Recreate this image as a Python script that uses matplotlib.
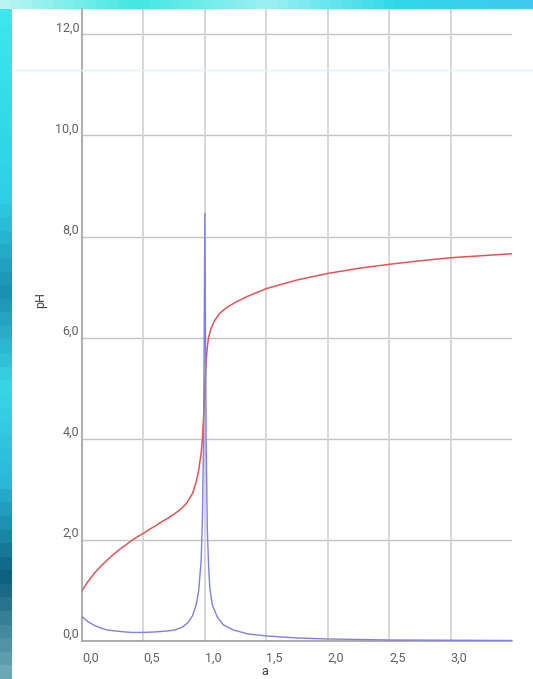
import matplotlib.pyplot as plt
import numpy as np
from matplotlib.colors import LinearSegmentedColormap

# titration curve (pH against a)
a_ph = [0.00, 0.05, 0.10, 0.15, 0.20, 0.25, 0.30, 0.35, 0.40, 0.45, 0.50,
        0.55, 0.60, 0.65, 0.70, 0.75, 0.80, 0.85, 0.90, 0.93, 0.95, 0.97,
        0.98, 0.99, 1.00, 1.01, 1.02, 1.03, 1.05, 1.08, 1.12, 1.18, 1.25,
        1.35, 1.50, 1.75, 2.00, 2.25, 2.50, 2.75, 3.00, 3.25, 3.50]
ph = [1.00, 1.18, 1.34, 1.47, 1.59, 1.70, 1.80, 1.89, 1.98, 2.06, 2.13,
      2.21, 2.28, 2.36, 2.43, 2.51, 2.60, 2.72, 2.92, 3.15, 3.38, 3.72,
      4.00, 4.45, 5.00, 5.50, 5.82, 6.00, 6.18, 6.34, 6.48, 6.60, 6.70,
      6.82, 6.97, 7.14, 7.27, 7.37, 7.45, 7.52, 7.58, 7.62, 7.66]

# the blue peaked curve
a_d = [0.00, 0.05, 0.10, 0.15, 0.20, 0.30, 0.40, 0.50, 0.60, 0.70, 0.76,
       0.82, 0.86, 0.90, 0.93, 0.95, 0.97, 0.98, 0.99, 1.00, 1.01, 1.02,
       1.03, 1.04, 1.06, 1.10, 1.15, 1.23, 1.35, 1.50, 1.75, 2.00, 2.50,
       3.00, 3.50]
d = [0.48, 0.38, 0.31, 0.26, 0.22, 0.19, 0.17, 0.17, 0.18, 0.20, 0.22,
     0.28, 0.36, 0.50, 0.72, 1.00, 1.60, 2.40, 4.00, 8.46, 4.00, 2.20,
     1.50, 1.05, 0.72, 0.48, 0.32, 0.22, 0.14, 0.10, 0.06, 0.04, 0.02,
     0.015, 0.01]

x_ticks = [0.0, 0.5, 1.0, 1.5, 2.0, 2.5, 3.0]
y_ticks = [0.0, 2.0, 4.0, 6.0, 8.0, 10.0, 12.0]

fig = plt.figure(figsize=(5.33, 6.79), dpi=100)
fig.patch.set_facecolor('white')

# cyan photo border on the left and top
border = LinearSegmentedColormap.from_list(
    'border', ['#3ee8ec', '#34dce8', '#2fd0e4', '#1d8fb0', '#39d6e6',
               '#2bb8d8', '#0e5f7e', '#6aa8b4'])
bl = fig.add_axes([0, 0, 12 / 533, 1])
bl.imshow(np.linspace(0, 1, 50).reshape(-1, 1), cmap=border, aspect='auto')
bl.axis('off')
bt = fig.add_axes([0, 1 - 9 / 679, 1, 9 / 679])
bt.imshow(np.linspace(0, 1, 50).reshape(1, -1),
          cmap=LinearSegmentedColormap.from_list('top', ['#b8f4f4', '#40e8e0', '#9ef0f4', '#30d8e8', '#40c8f0']),
          aspect='auto')
bt.axis('off')
fig.add_artist(plt.Line2D([12 / 533, 1], [1 - 70 / 679] * 2, color='#d6f6f8', lw=1))

ax = fig.add_axes([82 / 533, 38 / 679, 430 / 533, 632 / 679])
ax.set_facecolor('none')

ax.plot(a_ph, ph, color='#e25555', lw=1.1, zorder=3)
ax.plot(a_d, d, color='#7f7fe6', lw=1.0, zorder=4)

ax.set_xlim(0, 3.5)
ax.set_ylim(0, 12.5)
ax.set_xticks(x_ticks)
ax.set_yticks(y_ticks)
ax.set_xticklabels([f'{v:.1f}'.replace('.', ',') for v in x_ticks])
ax.set_yticklabels([f'{v:.1f}'.replace('.', ',') for v in y_ticks])

# horizontal grid lines only go up to 12
for v in y_ticks[1:]:
    ax.axhline(v, color='#c4c4c4', lw=1, zorder=1)
for v in x_ticks[1:]:
    ax.axvline(v, color='#d4d4d4', lw=1.3, zorder=1)

for s in ['top', 'right']:
    ax.spines[s].set_visible(False)
ax.spines['left'].set_color('#b0b0b0')
ax.spines['left'].set_linewidth(1.5)
ax.spines['bottom'].set_color('#a0a0a0')
ax.spines['bottom'].set_linewidth(1.2)

ax.tick_params(axis='y', length=0, labelsize=9, labelcolor='#606060', pad=2)
ax.tick_params(axis='x', length=0, labelsize=9, labelcolor='#606060', pad=8)
for t in ax.get_yticklabels():
    t.set_fontfamily('Roboto')
    t.set_verticalalignment('bottom')
for t in ax.get_xticklabels():
    t.set_fontfamily('Roboto')
    t.set_horizontalalignment('left')

ax.set_xlabel('a', fontsize=9, color='#404040', fontfamily='Roboto')
ax.set_ylabel('pH', fontsize=9, color='#404040', fontfamily='Roboto')
ax.xaxis.set_label_coords(0.426, -0.038)
ax.yaxis.set_label_coords(-0.082, 0.54)

fig.savefig('out.png', dpi=100)
